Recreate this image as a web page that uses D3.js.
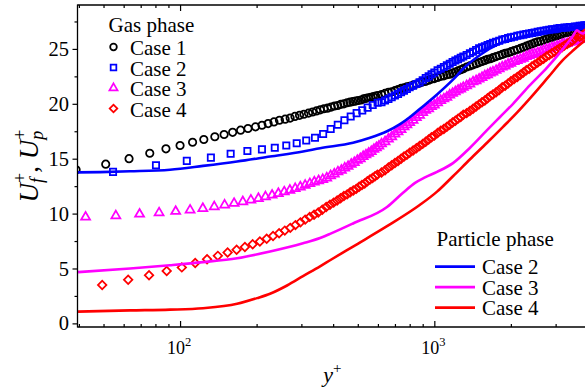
<!DOCTYPE html>
<html>
<head>
<meta charset="utf-8">
<script src="https://cdn.jsdelivr.net/npm/d3@7/dist/d3.min.js"></script>
<style>
  html, body { margin: 0; padding: 0; background: #fff; }
  svg text { font-family: "Liberation Serif", "DejaVu Serif", serif; }
</style>
</head>
<body>
<svg id="chart" width="585" height="391" font-family="Liberation Serif, DejaVu Serif, serif"></svg>
<script>
// ---- Gas phase (markers): near-wall part of each profile ----
const case1YPlus = [39, 51, 63, 76, 88, 100, 112, 124, 137, 149, 161, 173, 185, 198, 210, 222, 234, 246, 259, 271, 283, 295, 307, 320, 332, 344, 356, 368, 380, 393, 405, 417, 429, 441, 454, 466, 478, 490, 502, 515, 527, 539, 551, 563, 576, 588, 600];
const case1U = [14.0, 14.5, 15.0, 15.5, 15.9, 16.2, 16.5, 16.75, 17.0, 17.2, 17.4, 17.6, 17.75, 17.9, 18.05, 18.2, 18.35, 18.5, 18.6, 18.7, 18.85, 18.95, 19.05, 19.15, 19.25, 19.35, 19.45, 19.55, 19.6, 19.7, 19.8, 19.85, 19.95, 20.0, 20.1, 20.15, 20.2, 20.25, 20.3, 20.35, 20.45, 20.5, 20.55, 20.6, 20.65, 20.7, 20.75];

const case2YPlus = [54.5, 80.4, 106.3, 132.2, 158.1, 184, 209.9, 235.8, 261.7, 287.6, 313.5, 339.4, 365.3, 391.2, 417.1, 443, 468.9, 494.8, 520.7, 546.6, 572.5, 598.4];
const case2U = [13.8, 14.4, 14.8, 15.1, 15.45, 15.7, 15.85, 16.0, 16.2, 16.4, 16.65, 16.9, 17.25, 17.7, 18.1, 18.5, 18.85, 19.15, 19.4, 19.65, 19.9, 20.1];

const case3YPlus = [42.5, 55.9, 69.3, 82.7, 96.1, 109.5, 122.9, 136.3, 149.7, 163.1, 176.5, 189.9, 203.3, 216.7, 230.1, 243.5, 256.9, 270.3, 283.7, 297.1, 310.5, 323.9, 337.3, 350.7, 364.1, 377.5, 390.9, 404.3, 417.7, 431.1, 444.5, 457.9, 471.3, 484.7, 498.1, 511.5, 524.9, 538.3, 551.7, 565.1, 578.5, 591.9, 605.3];
const case3U = [9.68, 9.8, 9.95, 10.07, 10.2, 10.32, 10.47, 10.62, 10.78, 10.93, 11.08, 11.23, 11.38, 11.53, 11.68, 11.83, 11.98, 12.13, 12.28, 12.43, 12.58, 12.73, 12.88, 13.0, 13.1, 13.25, 13.45, 13.6, 13.8, 13.95, 14.15, 14.3, 14.5, 14.65, 14.85, 15.0, 15.2, 15.35, 15.5, 15.65, 15.85, 16.0, 16.15];

const case4YPlus = [49.4, 62.5, 75.5, 88.6, 101.6, 114.7, 127.7, 140.8, 153.8, 166.9, 179.9, 193.0, 206.0, 219.1, 232.1, 245.2, 258.2, 271.3, 284.3, 297.4, 310.4, 323.5, 336.5, 349.6, 362.6, 375.7, 388.7, 401.8, 414.8, 427.9, 440.9, 454.0, 467.0, 480.1, 493.1, 506.2, 519.2, 532.3, 545.3, 558.4, 571.4, 584.5, 597.5];
const case4U = [3.5, 3.97, 4.38, 4.78, 5.1, 5.5, 5.85, 6.15, 6.45, 6.7, 6.95, 7.2, 7.45, 7.7, 7.95, 8.2, 8.45, 8.7, 8.95, 9.2, 9.45, 9.7, 9.9, 10.1, 10.35, 10.6, 10.8, 11.0, 11.2, 11.4, 11.6, 11.75, 11.95, 12.1, 12.25, 12.45, 12.6, 12.75, 12.95, 13.1, 13.25, 13.4, 13.55];

// ---- Gas phase: outer part, sampled on a common y+ grid ----
const outerYPlus = [620, 640, 660, 680, 700, 720, 740, 760, 780, 800,
  825, 850, 875, 900, 925, 950, 975, 1000,
  1030, 1060, 1090, 1120, 1150, 1180, 1210, 1240, 1270, 1300,
  1340, 1380, 1420, 1460, 1500, 1540, 1580, 1620, 1660, 1700,
  1750, 1800, 1850, 1900, 1950, 2000,
  2060, 2120, 2180, 2240, 2300, 2360, 2420, 2480,
  2550, 2620, 2690, 2760, 2830, 2900, 2970, 3040, 3110, 3180, 3250,
  3330, 3410, 3490, 3570, 3650, 3730, 3810, 3890, 3970];
const case1OuterU = [20.85, 20.95, 21.05, 21.1, 21.2, 21.3, 21.4, 21.45, 21.55, 21.6,
  21.7, 21.8, 21.9, 22.0, 22.05, 22.15, 22.25, 22.3,
  22.4, 22.5, 22.55, 22.65, 22.7, 22.8, 22.9, 23.0, 23.1, 23.2,
  23.35, 23.45, 23.55, 23.65, 23.75, 23.85, 23.95, 24.05, 24.1, 24.2,
  24.3, 24.4, 24.5, 24.6, 24.65, 24.75,
  24.85, 24.95, 25.05, 25.15, 25.25, 25.35, 25.45, 25.55,
  25.65, 25.7, 25.8, 25.9, 26.0, 26.05, 26.15, 26.2, 26.3, 26.35, 26.45,
  26.5, 26.55, 26.6, 26.7, 26.75, 26.8, 26.85, 26.9, 26.95];
const case2OuterU = [20.15, 20.3, 20.45, 20.6, 20.75, 20.9, 21.05, 21.2, 21.35, 21.5,
  21.65, 21.8, 21.95, 22.15, 22.35, 22.5, 22.7, 22.85,
  23.05, 23.2, 23.35, 23.5, 23.65, 23.8, 23.95, 24.05, 24.2, 24.3,
  24.45, 24.6, 24.75, 24.9, 25.05, 25.15, 25.25, 25.35, 25.45, 25.55,
  25.65, 25.75, 25.85, 25.9, 26.0, 26.05,
  26.1, 26.2, 26.25, 26.3, 26.35, 26.4, 26.45, 26.5,
  26.55, 26.6, 26.65, 26.7, 26.75, 26.8, 26.8, 26.85, 26.9, 26.9, 26.95,
  26.95, 27.0, 27.0, 27.05, 27.05, 27.1, 27.1, 27.15, 27.15];
const case3OuterU = [16.35, 16.55, 16.8, 17.0, 17.25, 17.45, 17.65, 17.9, 18.1, 18.3,
  18.5, 18.75, 18.95, 19.2, 19.4, 19.55, 19.75, 19.9,
  20.1, 20.3, 20.45, 20.6, 20.8, 20.95, 21.1, 21.25, 21.35, 21.5,
  21.65, 21.8, 22.0, 22.1, 22.25, 22.4, 22.55, 22.65, 22.8, 22.9,
  23.05, 23.2, 23.35, 23.45, 23.6, 23.7,
  23.85, 23.95, 24.05, 24.15, 24.3, 24.4, 24.5, 24.55,
  24.65, 24.75, 24.85, 24.95, 25.0, 25.1, 25.15, 25.25, 25.3, 25.4, 25.45,
  25.5, 25.6, 25.65, 25.7, 25.8, 25.85, 25.9, 25.95, 26.0];
const case4OuterU = [13.75, 13.95, 14.2, 14.4, 14.6, 14.8, 15.0, 15.2, 15.35, 15.55,
  15.75, 15.95, 16.15, 16.35, 16.55, 16.75, 16.95, 17.1,
  17.35, 17.55, 17.7, 17.9, 18.1, 18.3, 18.45, 18.65, 18.8, 19.0,
  19.15, 19.35, 19.55, 19.75, 19.95, 20.15, 20.3, 20.5, 20.7, 20.85,
  21.05, 21.25, 21.5, 21.65, 21.85, 22.05,
  22.25, 22.45, 22.65, 22.85, 23.05, 23.2, 23.4, 23.55,
  23.75, 23.95, 24.1, 24.3, 24.45, 24.6, 24.75, 24.9, 25.05, 25.15, 25.3,
  25.45, 25.6, 25.75, 25.95, 26.2, 26.1, 26.2, 26.35, 26.5];

// ---- Particle phase (lines) ----
const particle2YPlus = [39.5, 48.5, 63.6, 91.3, 123.1, 167.6, 225.9, 304.5, 355.3, 478.9, 558.6, 651.6, 733, 802.6, 878.6, 1025, 1184, 1320, 1512, 1813, 2378, 3208, 3985];
const particle2U = [13.75, 13.78, 13.85, 14.0, 14.35, 14.75, 15.2, 15.65, 15.95, 16.45, 16.9, 17.5, 18.15, 18.8, 19.55, 20.85, 22.2, 23.35, 24.45, 25.5, 26.3, 26.85, 27.1];

const particle3YPlus = [39.7, 63.6, 91.3, 123.1, 167.6, 225.9, 304.5, 355.3, 389.0, 478.9, 651.6, 753.3, 840, 919, 1025, 1184, 1382, 1612, 1813, 2040, 2378, 2775, 3208, 3512, 3641, 3741, 3843, 3985];
const particle3U = [4.67, 5.0, 5.3, 5.58, 5.94, 6.55, 7.3, 7.77, 8.15, 9.1, 10.6, 11.9, 12.8, 13.3, 13.8, 14.6, 16.0, 17.6, 18.8, 20.0, 21.7, 23.3, 25.0, 26.2, 26.7, 26.5, 26.4, 26.7];

const particle4YPlus = [39.7, 63.6, 91.3, 123.1, 167.6, 200.8, 225.9, 263.5, 304.5, 355.3, 389.0, 478.9, 651.6, 878.6, 1025, 1184, 1382, 1612, 1863, 2114, 2378, 2800, 3208, 3512, 3741, 3985];
const particle4U = [1.07, 1.18, 1.25, 1.38, 1.78, 2.3, 2.7, 3.45, 4.3, 5.2, 5.75, 7.0, 8.85, 10.8, 12.0, 13.4, 14.95, 16.45, 17.9, 19.2, 20.5, 22.4, 24.0, 24.85, 25.4, 25.9];

// ---- Axis ticks ----
const yMajorTicks = [0, 5, 10, 15, 20, 25];
const yMinorTicks = [2.5, 7.5, 12.5, 17.5, 22.5, 27.5];
const xMajorTicks = [100, 1000];
const xMajorExponents = ["2", "3"];
const xMinorTicks = [40, 50, 60, 70, 80, 90, 200, 300, 400, 500, 600, 700, 800, 900, 2000, 3000, 4000];

// ---- Legend labels ----
const gasLegendTitle = "Gas phase";
const particleLegendTitle = "Particle phase";
const gasLabels = ["Case 1", "Case 2", "Case 3", "Case 4"];
const particleLabels = ["Case 2", "Case 3", "Case 4"];

const colors = { c1: "#000000", c2: "#0000ff", c3: "#ff00ff", c4: "#ff0000" };
const serif = "Liberation Serif, DejaVu Serif, serif";

// ---- Build series ----
const zip = (xs, ys) => xs.map((v, i) => ({ yp: v, u: ys[i] }));
const gasSeries = [
  { label: gasLabels[0], color: colors.c1, shape: "circle",   data: zip(case1YPlus.concat(outerYPlus), case1U.concat(case1OuterU)) },
  { label: gasLabels[1], color: colors.c2, shape: "square",   data: zip(case2YPlus.concat(outerYPlus), case2U.concat(case2OuterU)) },
  { label: gasLabels[2], color: colors.c3, shape: "triangle", data: zip(case3YPlus.concat(outerYPlus), case3U.concat(case3OuterU)) },
  { label: gasLabels[3], color: colors.c4, shape: "diamond",  data: zip(case4YPlus.concat(outerYPlus), case4U.concat(case4OuterU)) }
];
const particleSeries = [
  { label: particleLabels[0], color: colors.c2, data: zip(particle2YPlus, particle2U) },
  { label: particleLabels[1], color: colors.c3, data: zip(particle3YPlus, particle3U) },
  { label: particleLabels[2], color: colors.c4, data: zip(particle4YPlus, particle4U) }
];

// ---- Layout ----
const svg = d3.select("#chart");
const plotLeft = 77.5, plotRight = 587.4, plotTop = 5, plotBottom = 327;
const x = d3.scaleLog().domain([39.5, 4000]).range([plotLeft, plotRight]);
const y = d3.scaleLinear().domain([-0.33, 29]).range([plotBottom, plotTop]);

svg.append("defs").append("clipPath").attr("id", "plot-clip")
  .append("rect").attr("x", plotLeft).attr("y", plotTop)
  .attr("width", 600 - plotLeft).attr("height", plotBottom - plotTop);

const makeSymbols = k => ({
  circle: d3.symbol().type(d3.symbolCircle).size(Math.PI * Math.pow(3.7 * k, 2)),
  square: d3.symbol().type(d3.symbolSquare).size(Math.pow(6.3 * k, 2)),
  triangle: d3.symbol().type(d3.symbolTriangle).size(0.433 * Math.pow(9.0 * k, 2)),
  diamond: d3.symbol().type(d3.symbolSquare).size(Math.pow(6.0 * k, 2))
});
const plotSymbols = makeSymbols(1);
const legendSymbols = makeSymbols(0.9);
const shapeRotate = { circle: 0, square: 0, triangle: 0, diamond: 45 };
const markerStroke = 1.75;

const plot = svg.append("g").attr("clip-path", "url(#plot-clip)");

// gas-phase markers
gasSeries.forEach(s => {
  plot.append("g")
    .selectAll("path")
    .data(s.data)
    .join("path")
    .attr("d", plotSymbols[s.shape]())
    .attr("transform", d => `translate(${x(d.yp)},${y(d.u)}) rotate(${shapeRotate[s.shape]})`)
    .attr("fill", "none")
    .attr("stroke", s.color)
    .attr("stroke-width", markerStroke);
});

// particle-phase lines
const line = d3.line().x(d => x(d.yp)).y(d => y(d.u)).curve(d3.curveMonotoneX);
particleSeries.forEach(s => {
  plot.append("path")
    .datum(s.data)
    .attr("d", line)
    .attr("fill", "none")
    .attr("stroke", s.color)
    .attr("stroke-width", 2.6);
});

// ---- Axes ----
const axisStroke = g => {
  g.select(".domain").remove();
  g.attr("font-family", serif);
  g.selectAll(".tick line").attr("stroke", "#000").attr("stroke-width", 1.2);
};

svg.append("g").attr("transform", `translate(0,${plotBottom})`)
  .call(d3.axisBottom(x).tickValues(xMinorTicks).tickSize(-3).tickFormat(""))
  .call(axisStroke);
svg.append("g").attr("transform", `translate(0,${plotBottom})`)
  .call(d3.axisBottom(x).tickValues(xMajorTicks).tickSize(-6).tickFormat(""))
  .call(axisStroke);
svg.append("g").attr("transform", `translate(0,${plotTop})`)
  .call(d3.axisTop(x).tickValues(xMinorTicks).tickSize(-3).tickFormat(""))
  .call(axisStroke);
svg.append("g").attr("transform", `translate(0,${plotTop})`)
  .call(d3.axisTop(x).tickValues(xMajorTicks).tickSize(-6).tickFormat(""))
  .call(axisStroke);

// x tick labels as powers of ten
const xLab = svg.append("g");
xMajorTicks.forEach((v, i) => {
  const t = xLab.append("text")
    .attr("x", x(v) - 1).attr("y", 354)
    .attr("text-anchor", "middle")
    .attr("font-family", serif)
    .attr("font-size", 18).attr("fill", "#000");
  t.append("tspan").text("10");
  t.append("tspan").attr("dy", -8).attr("font-size", 12.5).text(xMajorExponents[i]);
});

const yAxisG = svg.append("g").attr("transform", `translate(${plotLeft},0)`)
  .call(d3.axisLeft(y).tickValues(yMajorTicks).tickSize(5).tickPadding(3.5).tickFormat(d3.format("d")))
  .call(axisStroke);
yAxisG.selectAll(".tick text").attr("font-size", 20.5).attr("font-family", serif).attr("fill", "#000");
svg.append("g").attr("transform", `translate(${plotLeft},0)`)
  .call(d3.axisLeft(y).tickValues(yMinorTicks).tickSize(3).tickFormat(""))
  .call(axisStroke);

// frame
const frame = svg.append("g").attr("stroke", "#000").attr("stroke-width", 1.3);
frame.append("line").attr("x1", plotLeft).attr("x2", plotLeft).attr("y1", plotTop - 0.6).attr("y2", plotBottom + 0.6);
frame.append("line").attr("x1", plotLeft).attr("x2", 600).attr("y1", plotTop).attr("y2", plotTop);
frame.append("line").attr("x1", plotLeft).attr("x2", 600).attr("y1", plotBottom).attr("y2", plotBottom);

// ---- Axis titles (centred on their axes) ----
const xTitle = svg.append("text")
  .attr("x", (plotLeft + plotRight) / 2).attr("y", 382)
  .attr("text-anchor", "middle")
  .attr("font-family", serif)
  .attr("font-size", 22).attr("fill", "#000");
xTitle.append("tspan").attr("font-style", "italic").text("y");
xTitle.append("tspan").attr("dy", -9).attr("font-size", 15).text("+");

const yTitle = svg.append("text")
  .attr("transform", `translate(38,${(plotTop + plotBottom) / 2}) rotate(-90)`)
  .attr("text-anchor", "middle")
  .attr("font-family", serif)
  .attr("font-size", 27).attr("fill", "#000");
yTitle.append("tspan").attr("font-style", "italic").text("U");
yTitle.append("tspan").attr("font-style", "italic").attr("font-size", 18).attr("dy", 5).text("f");
yTitle.append("tspan").attr("font-size", 18).attr("dx", -5).attr("dy", -17).text("+");
yTitle.append("tspan").attr("dy", 12).text(", ");
yTitle.append("tspan").attr("font-style", "italic").text("U");
yTitle.append("tspan").attr("font-style", "italic").attr("font-size", 18).attr("dy", 5).text("p");
yTitle.append("tspan").attr("font-size", 18).attr("dx", -9).attr("dy", -17).text("+");

// ---- Legends ----
const legendFont = 21;
const gasLegend = svg.append("g").attr("font-family", serif);
gasLegend.append("text").attr("x", 108.5).attr("y", 31.5).attr("font-size", legendFont).text(gasLegendTitle);
gasSeries.forEach((s, i) => {
  const cy = 47 + i * 20.5;
  gasLegend.append("path")
    .attr("d", legendSymbols[s.shape]())
    .attr("transform", `translate(113.5,${cy}) rotate(${shapeRotate[s.shape]})`)
    .attr("fill", "none").attr("stroke", s.color).attr("stroke-width", markerStroke);
  gasLegend.append("text").attr("x", 130).attr("y", cy + 8).attr("font-size", legendFont).text(s.label);
});

const partLegend = svg.append("g").attr("font-family", serif);
partLegend.append("text").attr("x", 436.5).attr("y", 246).attr("font-size", legendFont).text(particleLegendTitle);
particleSeries.forEach((s, i) => {
  const cy = 266.7 + i * 20.5;
  partLegend.append("line").attr("x1", 435).attr("x2", 475).attr("y1", cy).attr("y2", cy)
    .attr("stroke", s.color).attr("stroke-width", 2.8);
  partLegend.append("text").attr("x", 482).attr("y", cy + 7.5).attr("font-size", legendFont).text(s.label);
});
</script>
</body>
</html>
